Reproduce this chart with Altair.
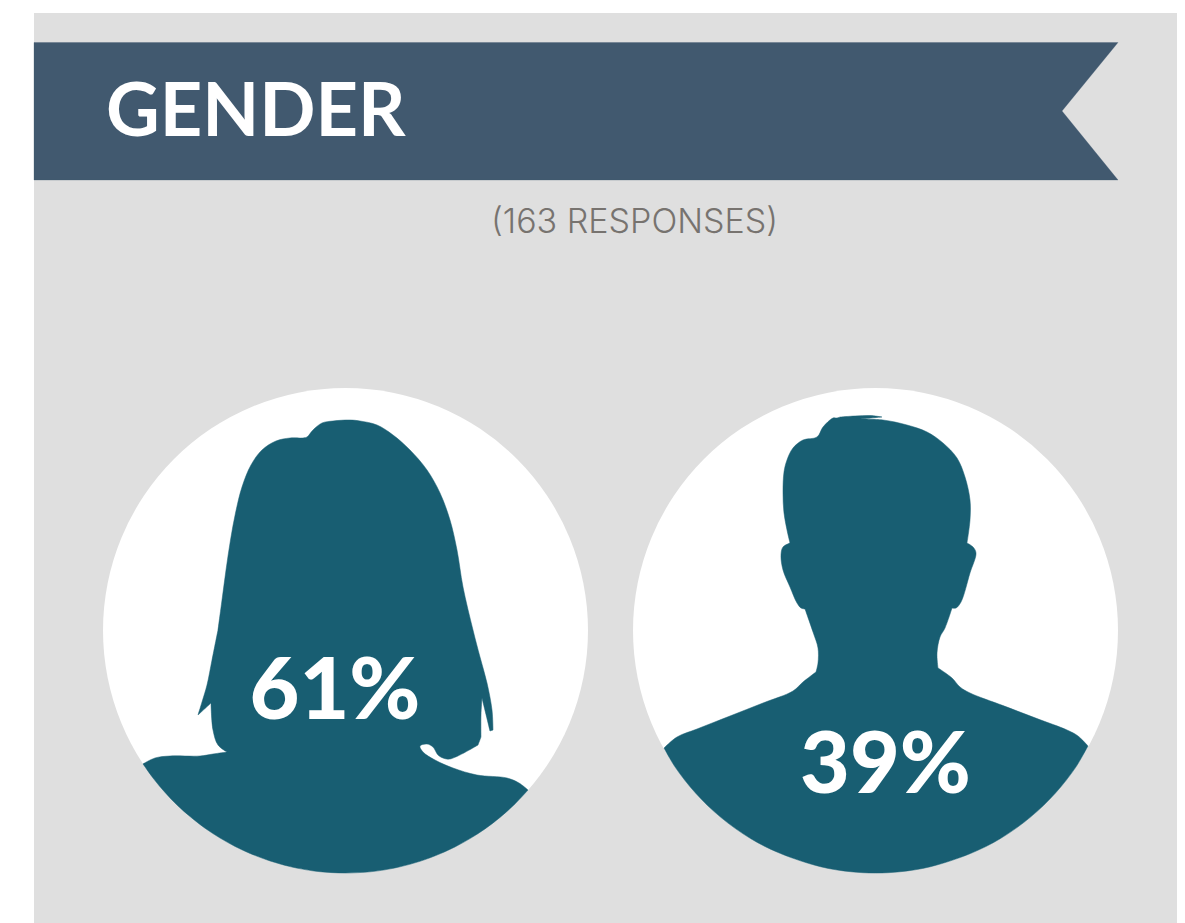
import altair as alt
import pandas as pd

# Panel and banner
panel_x = [34]; panel_x2 = [1177]; panel_y = [13]; panel_y2 = [923]
banner_x = [34, 1118, 1062, 1118, 34]
banner_y = [42.5, 42.5, 111, 180, 180]

# Circles
circle_names = ["Women", "Men"]
circle_x = [345.5, 875.5]
circle_y = [630.5, 630.5]

# Silhouettes (a repeated point marks a sharp corner)
woman_x = [218,222,226,230.5,235.5,242,251,262,276,290,303,307,313,322,333,350,360,377,393,410,427,440,450,457,463,473,480,487,492,493,493,490,490,482,482,481,481,481,478,478,450,443,438,433,427,420,423,435,453,477,507,519,528,528,
           515,500,485,470,455,440,420,400,385,370,345,320,305,290,270,250,235,220,205,190,178,165,154,143,143,
           155,170,200,213,227,227,218,213,211,211,198,198,202,207,212,218]
woman_y = [630,600,570,540,513,487,465,450,441,438,438,437,430,423,421,420,421,425,435,450,470,493,520,550,587,630,657,683,710,730,730,731,731,698,698,715,737,737,745,745,759,758,755,747,744,746,752,760,768,775,778,783,790,790,
           803.9,817.4,828.9,838.6,846.9,853.8,861.3,866.8,869.8,871.8,873,871.7,869.6,866.6,860.9,853.4,846.4,838,828.2,816.5,805.9,792.4,779.3,763.9,763.9,
           758,756,756,754,752,752,745,730,703,703,715,715,702,685,660,630]

man_x = [840,837,833,823,817,803,793,787,784,783,784,787,790,790,783,781,783,790,797,801,805,805,813,818,818,816,816,803,793,763,730,697,677,664,664,
         675.5,695.5,720.5,750.5,780.5,820.5,850.5,875.5,900.5,930.5,970.5,1000.5,1030.5,1055.5,1075.5,1088,1088,
         1078,1067,1037,1003,970,960,952,938,938,937,940,945,952,952,956,961,970,976,973,967,967,970,970,965,957,943,927,907,883,860,860,882,882,870,855,840]
man_y = [417,418,418,427,437,440,448,460,472,493,513,530,543,543,547,555,570,587,603,608,609,609,632,648,663,672,672,682,691,703,716,729,737,748,748,
         767.6,793,817.1,838.5,853.5,866.7,871.7,873,871.7,866.7,853.5,838.5,817.1,793,767.6,746,746,
         736,730,718.6,705.6,693,687,678,668,668,653,637,628,608,608,608,602,573,553,547,543,543,520,500,477,458,443,432,425,420,419,419,417,417,415.5,416,417]

# Text
title_text = ["GENDER"]
subtitle_text = ["(163 RESPONSES)"]
pct_labels = ["61%", "39%"]
pct_x = [335, 885.5]
pct_y = [719, 792.5]

X = alt.X("x:Q", scale=alt.Scale(domain=[8, 1177], range=[0, 1169], nice=False, zero=False), axis=None)
Y = alt.Y("y:Q", scale=alt.Scale(domain=[8, 923], range=[0, 915], nice=False, zero=False), axis=None)


def outline(xs, ys):
    return pd.DataFrame({"x": xs, "y": ys, "i": range(len(xs))})


def polygon(xs, ys, color, stroke=0.5, interp="catmull-rom"):
    return alt.Chart(outline(xs, ys)).mark_line(
        fill=color, stroke=color, strokeWidth=stroke, strokeJoin="round", interpolate=interp
    ).encode(x=X, y=Y, order="i:Q")


panel = alt.Chart(pd.DataFrame({"x": panel_x, "x2": panel_x2, "y": panel_y, "y2": panel_y2})).mark_rect(
    color="#dfdfdf"
).encode(x=X, x2="x2:Q", y=Y, y2="y2:Q")

banner = polygon(banner_x, banner_y, "#41596f", 0.3, "linear-closed")

circles = alt.Chart(pd.DataFrame({"name": circle_names, "x": circle_x, "y": circle_y})).mark_circle(
    color="#ffffff", opacity=1, size=485 * 485
).encode(x=X, y=Y)

woman = polygon(woman_x, woman_y, "#185e72")
man = polygon(man_x, man_y, "#185e72")

title = alt.Chart(pd.DataFrame({"t": title_text, "x": [106], "y": [135.5]})).mark_text(
    font="Lato", fontWeight=700, fontSize=74, color="#ffffff", align="left", baseline="alphabetic"
).encode(x=X, y=Y, text="t:N")

subtitle = alt.Chart(pd.DataFrame({"t": subtitle_text, "x": [634.5], "y": [233]})).mark_text(
    font="Inter", fontWeight=300, fontSize=34, color="#77736f", align="center", baseline="alphabetic"
).encode(x=X, y=Y, text="t:N")

pcts = alt.Chart(pd.DataFrame({"t": pct_labels, "x": pct_x, "y": pct_y})).mark_text(
    font="Lato", fontWeight=900, fontSize=86, color="#ffffff", align="center", baseline="alphabetic"
).encode(x=X, y=Y, text="t:N")

chart = alt.layer(panel, banner, circles, woman, man, title, subtitle, pcts).properties(
    width=1169, height=915, padding=0, background="#ffffff"
).configure_view(stroke=None)

chart.save("out.html", embed_options={"renderer": "svg", "actions": False})
